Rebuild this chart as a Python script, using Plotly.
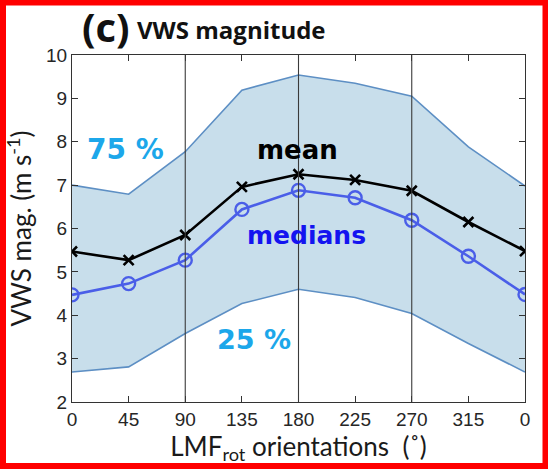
import plotly.graph_objects as go

# LMF_rot orientation angles (degrees); the last point wraps back to 0
angles = [0, 45, 90, 135, 180, 225, 270, 315, 360]
angle_labels = ["0", "45", "90", "135", "180", "225", "270", "315", "0"]

# VWS magnitude statistics (m s-1)
vws_mean = [5.47, 5.27, 5.85, 6.96, 7.25, 7.12, 6.87, 6.15, 5.48]
vws_median = [4.47, 4.73, 5.27, 6.44, 6.88, 6.71, 6.19, 5.36, 4.48]
vws_p75 = [7.00, 6.79, 7.77, 9.19, 9.54, 9.35, 9.05, 7.88, 6.98]
vws_p25 = [2.69, 2.81, 3.58, 4.27, 4.60, 4.41, 4.04, 3.35, 2.69]

divider_angles = [90, 180, 270]
y_ticks = [2, 3, 4, 5, 6, 7, 8, 9, 10]

band_line = "#5d8fc4"
band_fill = "rgba(170,204,224,0.65)"
median_color = "#4a5ee8"

# plot-area geometry in pixels, used to place paper-referenced labels
L, R, T, B = 72, 23, 55, 67
W, H = 548, 469
PW, PH = W - L - R, H - T - B


def px(x):
    return (x - L) / PW


def py(y):
    return (H - B - y) / PH


fig = go.Figure()

fig.add_trace(go.Scatter(
    x=angles, y=vws_p25, mode="lines",
    line=dict(color=band_line, width=1.6), showlegend=False, hoverinfo="skip"))
fig.add_trace(go.Scatter(
    x=angles, y=vws_p75, mode="lines", fill="tonexty", fillcolor=band_fill,
    line=dict(color=band_line, width=1.6), showlegend=False, hoverinfo="skip"))
fig.add_trace(go.Scatter(
    x=angles, y=vws_median, mode="lines+markers",
    line=dict(color=median_color, width=2.6),
    marker=dict(symbol="circle-open", size=13, color=median_color,
                line=dict(width=2.4, color=median_color)),
    showlegend=False))
fig.add_trace(go.Scatter(
    x=angles, y=vws_mean, mode="lines+markers",
    line=dict(color="black", width=2.6),
    marker=dict(symbol="x-thin-open", size=10, color="black",
                line=dict(width=2.6, color="black")),
    showlegend=False))

for a in divider_angles:
    fig.add_shape(type="line", x0=a, x1=a, y0=0, y1=1, xref="x", yref="paper",
                  line=dict(color="#3a3a3a", width=1.1), layer="above")

# red frame around the whole panel
fig.add_shape(type="rect", xref="paper", yref="paper",
              x0=px(3), x1=px(545.5), y0=py(466), y1=py(2.5),
              line=dict(color="#ff0000", width=6), layer="above")

tick_font = dict(family="Liberation Sans, Arial", size=19, color="#262626")
label_font_family = "Lato, Open Sans, sans-serif"

fig.update_layout(
    width=W, height=H,
    margin=dict(l=L, r=R, t=T, b=B),
    paper_bgcolor="white", plot_bgcolor="white",
    xaxis=dict(
        range=[0, 360], tickvals=angles, ticktext=angle_labels,
        ticks="inside", ticklen=6, tickwidth=1, tickcolor="#333",
        showline=True, linecolor="#333", linewidth=1.2, mirror="ticks",
        showgrid=False, zeroline=False, tickfont=tick_font,
        title=dict(text="LMF<sub>rot</sub> orientations  (˚)",
                   font=dict(family=label_font_family, size=26, color="#1a1a1a"),
                   standoff=2),
    ),
    yaxis=dict(
        range=[2, 10], tickvals=y_ticks,
        ticks="inside", ticklen=6, tickwidth=1, tickcolor="#333",
        showline=True, linecolor="#333", linewidth=1.2, mirror="ticks",
        showgrid=False, zeroline=False, tickfont=tick_font,
        title=dict(text="VWS mag. (m s<sup>-1</sup>)",
                   font=dict(family=label_font_family, size=26, color="#1a1a1a"),
                   standoff=6),
    ),
)

ann_font = "DejaVu Sans, sans-serif"


def label(x, y, text, size, color, family=ann_font, xanchor="center"):
    fig.add_annotation(xref="paper", yref="paper", x=px(x), y=py(y), text=text,
                       showarrow=False, xanchor=xanchor, yanchor="middle",
                       font=dict(family=family, size=size, color=color))


label(80, 26, "<b>(c)</b>", 40, "#111", family="Open Sans, sans-serif", xanchor="left")
label(135, 29, "<b>VWS magnitude</b>", 24, "#111", family="Open Sans, sans-serif", xanchor="left")
label(125, 149, "<b>75 %</b>", 28, "#1ca7ea")
label(297, 150, "<b>mean</b>", 26, "black")
label(306, 235, "<b>medians</b>", 25, "#1414f0")
label(254, 339, "<b>25 %</b>", 27, "#1ca7ea")

fig.write_html("out.html")
